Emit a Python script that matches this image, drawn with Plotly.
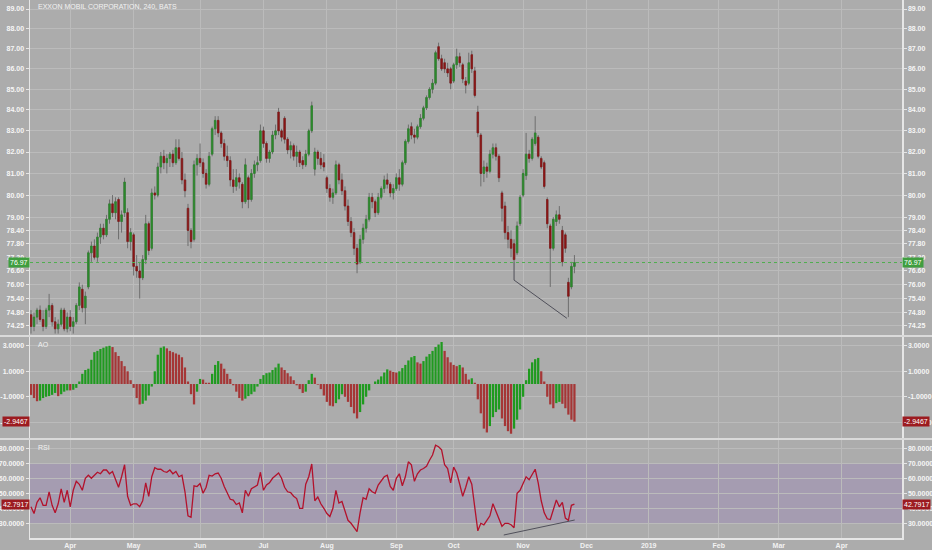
import math
import plotly.graph_objects as go

# ---------------- data (x = trading-day index, 0 = 2018-03-14) ----------------
opn = [74.7, 74.2, 74.6, 74.9, 74.5, 74.2, 74.9, 75.1, 74.4, 74.1,
       74.3, 74.9, 74.1, 74.6, 74.2, 74.4, 75.1, 75.8, 75.0, 75.9,
       77.4, 77.7, 77.2, 78.1, 78.5, 78.2, 78.9, 79.6, 79.2, 79.8,
       78.8, 79.2, 79.2, 77.9, 78.2, 76.8, 76.6, 76.3, 77.1, 78.7,
       77.6, 80.1, 80.0, 81.3, 81.8, 81.5, 81.7, 81.9, 81.5, 82.2,
       81.7, 80.7, 79.4, 78.4, 78.0, 81.4, 81.7, 81.5, 81.0, 80.5,
       81.9, 83.1, 83.5, 82.9, 82.4, 81.8, 81.6, 80.7, 80.4, 80.8,
       80.5, 79.7, 80.8, 79.8, 81.0, 81.4, 81.6, 83.0, 82.4, 81.7,
       82.0, 82.8, 83.9, 83.0, 83.6, 82.6, 82.1, 82.3, 81.8, 82.0,
       81.6, 81.4, 81.9, 83.0, 81.2, 82.0, 81.7, 81.5, 80.8, 80.3,
       79.9, 80.1, 81.4, 80.7, 80.2, 79.5, 78.8, 78.3, 77.6, 77.0,
       78.0, 78.5, 78.9, 79.9, 79.7, 79.2, 79.9, 80.3, 80.7, 80.5,
       80.1, 80.3, 80.8, 80.5, 81.5, 82.5, 83.2, 82.8, 82.7, 83.2,
       83.6, 84.1, 84.6, 85.0, 85.3, 87.1, 86.5, 86.3, 86.0, 86.0,
       85.4, 86.2, 86.6, 86.2, 85.4, 85.3, 86.7, 85.9, 83.9, 82.8,
       81.0, 81.3, 81.1, 81.9, 82.2, 81.8, 80.1, 79.5, 78.3, 78.0,
       77.8, 77.4, 78.7, 80.0, 80.9, 81.9, 81.7, 82.4, 82.7, 81.7,
       81.5, 79.8, 78.6, 77.6, 78.8, 79.1, 78.4, 78.2, 76.1, 75.9,
       76.8]
high = [74.9, 74.8, 75.0, 75.1, 74.9, 75.0, 75.6, 75.2, 74.6, 74.5,
        75.0, 75.0, 74.8, 74.9, 74.6, 75.2, 76.1, 76.0, 75.7, 77.5,
        77.9, 78.0, 78.3, 78.7, 78.7, 79.1, 79.8, 80.0, 79.9, 79.9,
        79.3, 80.8, 79.4, 78.5, 78.3, 77.3, 77.0, 77.3, 79.1, 78.8,
        80.3, 80.4, 81.5, 82.0, 82.1, 81.9, 82.0, 82.1, 82.6, 82.6,
        82.0, 81.0, 79.6, 78.5, 81.6, 81.9, 82.4, 81.7, 81.2, 82.0,
        83.2, 83.7, 83.7, 83.0, 82.6, 82.3, 81.8, 81.2, 81.2, 81.0,
        80.6, 81.7, 80.9, 81.2, 81.6, 81.8, 83.3, 83.2, 82.5, 82.1,
        83.0, 83.3, 84.1, 83.1, 83.7, 82.7, 82.5, 82.4, 82.3, 82.1,
        81.8, 82.1, 83.1, 84.4, 82.2, 82.1, 82.0, 81.9, 80.9, 80.5,
        80.3, 81.6, 81.5, 81.0, 80.4, 79.8, 79.0, 78.5, 77.8, 78.2,
        78.7, 79.1, 80.1, 80.1, 79.8, 80.1, 80.4, 80.9, 81.0, 80.6,
        80.5, 81.0, 81.2, 81.6, 82.6, 83.3, 83.4, 83.1, 83.3, 83.8,
        84.2, 84.7, 85.1, 85.5, 86.9, 87.3, 86.7, 86.5, 86.3, 86.1,
        86.3, 87.0, 86.8, 86.3, 85.6, 86.8, 86.9, 86.1, 84.2, 82.9,
        81.6, 81.5, 82.1, 82.4, 82.4, 81.9, 80.2, 79.7, 78.6, 78.4,
        78.0, 78.8, 80.0, 81.2, 82.9, 82.1, 82.7, 83.7, 82.8, 81.8,
        81.6, 79.9, 78.7, 79.0, 79.3, 79.5, 78.6, 78.3, 76.3, 77.0,
        77.3]
low = [73.9, 74.0, 74.3, 74.4, 74.0, 74.1, 74.6, 74.2, 73.9, 73.9,
       74.2, 74.0, 73.95, 74.0, 73.9, 74.3, 74.9, 74.8, 74.3, 75.8,
       77.0, 77.1, 77.0, 77.8, 78.0, 78.1, 78.7, 79.0, 78.9, 78.0,
       78.3, 79.0, 77.6, 77.5, 76.4, 76.3, 75.4, 76.2, 76.9, 77.3,
       77.5, 79.8, 79.9, 81.0, 81.2, 81.0, 81.3, 81.3, 81.4, 81.6,
       80.5, 79.9, 77.7, 77.6, 77.9, 80.9, 81.3, 80.8, 80.3, 80.4,
       81.8, 82.8, 82.7, 82.2, 81.6, 81.3, 80.4, 80.1, 80.2, 80.3,
       79.4, 79.6, 79.4, 79.7, 80.8, 81.1, 81.5, 82.2, 81.5, 81.5,
       81.9, 82.6, 82.8, 82.5, 82.4, 81.9, 81.7, 81.6, 81.3, 81.3,
       81.2, 81.3, 81.8, 82.9, 80.9, 81.4, 81.2, 81.1, 80.1, 79.7,
       79.6, 80.0, 80.5, 80.0, 79.3, 78.6, 78.1, 77.3, 76.5, 76.9,
       77.8, 78.3, 78.8, 79.4, 79.0, 79.1, 79.8, 80.1, 80.3, 79.9,
       79.8, 80.2, 80.2, 80.4, 81.4, 82.4, 82.6, 82.4, 82.6, 83.1,
       83.5, 84.0, 84.5, 84.8, 85.2, 86.4, 85.9, 85.8, 85.6, 85.0,
       85.3, 86.0, 86.1, 85.3, 84.8, 85.2, 85.8, 84.6, 82.7, 80.4,
       80.6, 80.8, 81.0, 81.7, 81.6, 80.6, 78.8, 78.0, 77.6, 77.2,
       77.0, 77.3, 78.6, 79.9, 80.7, 81.5, 81.6, 82.3, 81.7, 81.2,
       80.3, 78.5, 75.9, 77.5, 78.6, 78.7, 76.8, 77.4, 74.6, 75.8,
       76.5]
close = [74.2, 74.6, 74.9, 74.5, 74.2, 74.9, 75.1, 74.4, 74.1, 74.3,
         74.9, 74.1, 74.6, 74.2, 74.4, 75.1, 75.9, 75.0, 75.5, 77.4,
         77.7, 77.2, 78.1, 78.5, 78.2, 78.9, 79.6, 79.2, 79.7, 78.8,
         79.1, 80.6, 77.9, 78.3, 76.8, 76.6, 76.3, 77.1, 78.7, 77.5,
         80.1, 80.0, 81.3, 81.8, 81.5, 81.7, 81.9, 81.5, 82.2, 81.7,
         80.7, 80.2, 78.4, 77.9, 81.4, 81.7, 81.5, 81.0, 80.5, 81.8,
         83.1, 83.5, 82.9, 82.4, 81.8, 81.6, 80.7, 80.4, 80.8, 80.6,
         79.7, 81.4, 79.8, 81.0, 81.4, 81.5, 83.0, 82.4, 81.7, 82.0,
         82.8, 83.0, 83.0, 82.7, 82.6, 82.1, 82.3, 81.8, 82.0, 81.5,
         81.4, 81.9, 83.0, 84.2, 82.0, 81.7, 81.4, 81.3, 80.3, 79.9,
         80.1, 81.4, 80.7, 80.2, 79.5, 78.8, 78.3, 77.6, 76.9, 78.0,
         78.5, 78.9, 79.9, 79.7, 79.2, 79.9, 80.3, 80.7, 80.5, 80.1,
         80.3, 80.8, 80.5, 81.5, 82.5, 83.1, 82.8, 82.7, 83.2, 83.6,
         84.1, 84.6, 85.0, 85.3, 86.8, 86.5, 86.0, 86.0, 85.8, 85.3,
         86.2, 86.6, 86.3, 85.5, 85.2, 86.3, 86.0, 84.7, 82.9, 81.0,
         81.3, 81.1, 81.9, 82.2, 81.8, 80.8, 79.4, 78.3, 78.0, 77.6,
         77.1, 78.6, 79.9, 81.0, 81.9, 81.7, 82.6, 82.9, 81.8, 81.3,
         80.4, 78.7, 77.6, 78.9, 79.1, 78.9, 77.0, 77.6, 75.5, 76.8,
         76.97]
ao = [-0.85, -1.1, -1.35, -1.3, -1.1, -1.0, -0.95, -0.85, -0.7, -0.95,
      -0.8, -0.6, -0.5, -0.5, -0.45, -0.3, 0.2, 0.8, 1.1, 1.2,
      1.9, 2.5, 2.6, 2.75, 2.85, 2.95, 3.0, 2.9, 2.5, 2.2,
      1.8, 1.4, 1.0, 0.3, -0.3, -1.1, -1.6, -1.55, -1.3, -0.9,
      -0.2, 1.0, 2.3, 2.85, 2.95, 2.8, 2.6, 2.5, 2.4, 2.3,
      2.1, 1.3, 0.2, -0.8, -1.6, -0.6, 0.4, 0.35, 0.1, 0.1,
      0.8, 1.5, 1.8, 1.6, 1.2, 0.8, 0.4, -0.1, -0.6, -1.1,
      -1.3, -1.15, -0.95, -0.8, -0.6, -0.2, 0.4, 0.7, 0.85, 0.9,
      1.1, 1.3, 1.6, 1.3, 1.1, 0.85, 0.6, 0.3, -0.1, -0.4,
      -0.7, -0.6, 0.3, 0.8, 0.5, -0.05, -0.4, -0.9, -1.4, -1.7,
      -1.75, -1.5, -1.2, -0.8, -1.0, -1.4, -1.8, -2.3, -2.7, -2.2,
      -1.6, -1.0, -0.5, 0.0, 0.2, 0.35, 0.6, 0.9, 1.15, 1.05,
      0.95, 0.9, 1.0, 1.25, 1.5, 1.85, 2.1, 2.2, 1.7, 1.6,
      1.8, 2.15, 2.35, 2.6, 2.9, 3.1, 3.3, 2.6, 2.1, 1.7,
      1.5, 1.4, 1.5, 1.3, 0.8, 0.35, 0.45, 0.1, -1.2, -2.3,
      -3.5, -3.8, -3.3, -2.6, -2.2, -2.0, -2.7, -3.3, -3.7, -3.9,
      -3.5, -2.8, -2.0, -1.0, 0.3, 1.2, 1.7, 1.95, 2.05, 1.0,
      0.2, -1.0, -1.6, -1.9, -1.5, -1.4, -1.55, -1.9, -2.4, -2.8,
      -2.9467]
rsi = [41, 36.5, 44, 47, 42, 42, 51, 42, 37, 43,
       53, 44, 52, 41, 52, 58, 56, 52, 60, 62,
       60, 62, 64, 63, 65.5, 65.5, 63, 64.5, 59, 54,
       61, 69, 48, 42, 43, 43, 41, 45, 57, 48,
       61, 67, 66, 66, 64.5, 64, 65.5, 63, 64.5, 61,
       62, 51, 35, 34, 55, 54.5, 56.5, 50, 54, 62,
       61.5, 63, 63.5, 60, 54.5, 50, 46, 45.5, 42.5, 43.5,
       37, 52, 48, 53, 54.5, 55.5, 64, 52, 55.5, 57,
       60, 62, 63.5, 60, 54, 51, 50.5, 48, 46.5, 40,
       40, 56, 61, 69.5, 45, 47.5, 43, 40, 36.5, 34.5,
       40, 52, 43.5, 44.5, 38, 32, 30, 27, 24.5, 37,
       47, 46, 53, 51, 50, 55.5, 58.5, 61, 62, 54.5,
       52, 60, 63, 55, 61, 71, 69, 58, 63, 65.5,
       66.5, 68, 72, 75.5, 82, 81, 79, 69, 66.5, 57,
       67.5, 63.5, 56, 48, 54, 61, 56, 40, 25, 30,
       29, 32, 35, 43, 38, 33, 28, 30, 30, 29,
       27, 50, 52, 56.5, 61, 59, 63, 66, 57, 45,
       37, 33, 32.5, 39, 45.5, 41, 44, 33.5, 32, 42,
       42.7917]
day = list(range(len(close)))
assert len(opn) == len(high) == len(low) == len(close) == len(ao) == len(rsi)

month_pos = [13, 34, 56, 77, 98, 121, 140, 163, 184, 204.6, 227.8, 247.7, 268.5]
month_lbl = ['Apr', 'May', 'Jun', 'Jul', 'Aug', 'Sep', 'Oct', 'Nov', 'Dec',
             '<b>2019</b>', 'Feb', 'Mar', 'Apr']
price_ticks = [89, 88, 87, 86, 85, 84, 83, 82, 81, 80, 79, 78.4, 77.8, 77.2,
               76.6, 76, 75.4, 74.8, 74.25]
ao_ticks = [3, 1, -1, -3]
rsi_ticks = [80, 70, 60, 50, 40, 30]

# hand-drawn divergence lines
price_trend_x = [160, 160, 177.5]
price_trend_y = [77.0, 76.2, 74.55]
rsi_trend_x = [156.6, 180.1]
rsi_trend_y = [22.2, 32.2]

x_range = [-0.33, 288.5]
price_range = [73.84, 89.46]
ao_range = [-4.235, 3.69]
rsi_range = [20.2, 85.5]

# ---------------- style ----------------
BG = '#acacac'
GRID = '#bbbbbb'
AXL = '#e6e6e6'
FONT = 'Liberation Sans, Arial, sans-serif'
UP, DN, WICK = '#2b8a2b', '#8a1616', '#6e6e6e'
AO_UP, AO_DN = '#1f9a1f', '#a53636'
RSI_C = '#b3122c'
tickfont = dict(family=FONT, size=7, color='#f6f6f6', weight='bold')

fig = go.Figure()

# wicks (gray) and bodies (colored)
fig.add_trace(go.Candlestick(
    x=day, open=opn, high=high, low=low, close=close,
    increasing=dict(line=dict(color=WICK, width=1), fillcolor=WICK),
    decreasing=dict(line=dict(color=WICK, width=1), fillcolor=WICK),
    xaxis='x3', yaxis='y', hoverinfo='skip', showlegend=False))
body_hi = [max(o, c) for o, c in zip(opn, close)]
body_lo = [min(o, c) for o, c in zip(opn, close)]
fig.add_trace(go.Candlestick(
    x=day, open=opn, high=body_hi, low=body_lo, close=close,
    increasing=dict(line=dict(color=UP, width=0.6), fillcolor=UP),
    decreasing=dict(line=dict(color=DN, width=0.6), fillcolor=DN),
    xaxis='x3', yaxis='y', hoverinfo='skip', showlegend=False))
# last price line
fig.add_trace(go.Scatter(x=x_range, y=[close[-1]] * 2, mode='lines',
                         line=dict(color='#4fae4f', width=1, dash='dot'),
                         xaxis='x3', yaxis='y', showlegend=False, hoverinfo='skip'))
fig.add_trace(go.Scatter(x=price_trend_x, y=price_trend_y, mode='lines',
                         line=dict(color='#50505a', width=1),
                         xaxis='x3', yaxis='y', showlegend=False, hoverinfo='skip'))
fig.add_trace(go.Scatter(x=[day[0]], y=[close[0]], mode='markers', marker=dict(opacity=0),
                         xaxis='x3', yaxis='y2', showlegend=False, hoverinfo='skip'))

# AO histogram
ao_colors = [AO_UP if i > 0 and v > ao[i - 1] else AO_DN for i, v in enumerate(ao)]
fig.add_trace(go.Bar(x=day, y=ao, marker=dict(color=ao_colors, line=dict(width=0)),
                     xaxis='x2', yaxis='y3', showlegend=False, hoverinfo='skip'))
fig.add_trace(go.Scatter(x=[day[0]], y=[ao[0]], mode='markers', marker=dict(opacity=0),
                         xaxis='x2', yaxis='y4', showlegend=False, hoverinfo='skip'))

# RSI
fig.add_trace(go.Scatter(x=day, y=rsi, mode='lines', line=dict(color=RSI_C, width=1.3),
                         xaxis='x', yaxis='y5', showlegend=False, hoverinfo='skip'))
fig.add_trace(go.Scatter(x=rsi_trend_x, y=rsi_trend_y, mode='lines',
                         line=dict(color='#50505a', width=1),
                         xaxis='x', yaxis='y5', showlegend=False, hoverinfo='skip'))
fig.add_trace(go.Scatter(x=[day[0]], y=[rsi[0]], mode='markers', marker=dict(opacity=0),
                         xaxis='x', yaxis='y6', showlegend=False, hoverinfo='skip'))

H = 538.0
def dom(top_px, bot_px):
    return [(H - bot_px) / H, (H - top_px) / H]

d_price, d_ao, d_rsi = dom(0, 335), dom(337, 438), dom(440, 538)

def xax(anchor, labels):
    return dict(anchor=anchor, domain=[0, 1], range=x_range, tickmode='array',
                tickvals=month_pos, ticktext=month_lbl, showticklabels=labels,
                showgrid=True, gridcolor=GRID, gridwidth=1, zeroline=False,
                showline=labels, linecolor=AXL, linewidth=2, ticks='',
                tickfont=dict(family=FONT, size=7, color='#f2f2f2', weight='bold'),
                rangeslider=dict(visible=False), automargin=False, fixedrange=True)

def yax(domain, anchor, rng, vals, texts, side, typ='linear', overlay=None):
    r = [math.log10(rng[0]), math.log10(rng[1])] if typ == 'log' else rng
    d = dict(domain=domain, anchor=anchor, range=r, type=typ, tickmode='array',
             tickvals=vals, ticktext=texts, side=side,
             showgrid=overlay is None, gridcolor=GRID, gridwidth=1, zeroline=False,
             showline=True, linecolor=AXL, linewidth=1.5, ticks='outside', ticklen=3,
             tickcolor=AXL, tickfont=tickfont, automargin=False, fixedrange=True)
    if overlay:
        d['overlaying'] = overlay
    return d

p_txt = ['%.2f' % v for v in price_ticks]
a_txt = ['%.4f' % v for v in ao_ticks]
r_txt = ['%.4f' % v for v in rsi_ticks]

layout = dict(
    width=932, height=550, margin=dict(l=30, r=30, t=0, b=12),
    paper_bgcolor=BG, plot_bgcolor=BG, bargap=0.25, showlegend=False,
    xaxis=xax('y5', True), xaxis2=dict(xax('y3', False), matches='x'),
    xaxis3=dict(xax('y', False), matches='x'),
    yaxis=yax(d_price, 'x3', price_range, price_ticks, p_txt, 'left', 'log'),
    yaxis2=yax(d_price, 'x3', price_range, price_ticks, p_txt, 'right', 'log', 'y'),
    yaxis3=yax(d_ao, 'x2', ao_range, ao_ticks, a_txt, 'left'),
    yaxis4=yax(d_ao, 'x2', ao_range, ao_ticks, a_txt, 'right', overlay='y3'),
    yaxis5=yax(d_rsi, 'x', rsi_range, rsi_ticks, r_txt, 'left'),
    yaxis6=yax(d_rsi, 'x', rsi_range, rsi_ticks, r_txt, 'right', overlay='y5'),
)
fig.update_layout(**layout)

# RSI band and panel separators
sep_lo, sep_hi = -30 / 872, 1 + 30 / 872
fig.add_shape(type='rect', xref='paper', x0=0, x1=1, yref='y5', y0=30, y1=70,
              fillcolor='rgba(140,100,195,0.22)', line=dict(width=0), layer='below')
for py in (336, 439):
    yy = (H - py) / H
    fig.add_shape(type='line', xref='paper', yref='paper', x0=sep_lo, x1=sep_hi,
                  y0=yy, y1=yy, line=dict(color='#dadada', width=2))

def tag(text, yref, y, color, side):
    return dict(text=text, xref='paper', x=0 if side == 'left' else 1,
                xanchor='right' if side == 'left' else 'left', yref=yref, y=y,
                yanchor='middle', showarrow=False, bgcolor=color, borderpad=1,
                font=dict(family=FONT, size=7, color='white'))

ann = [
    dict(text='EXXON MOBIL CORPORATION, 240, BATS', xref='paper', yref='paper',
         x=6 / 872, y=(H - 7) / H, xanchor='left', yanchor='middle', showarrow=False,
         font=dict(family=FONT, size=7, color='#f2f2f2')),
    dict(text='AO', xref='paper', yref='paper', x=6 / 872, y=(H - 344) / H,
         xanchor='left', yanchor='middle', showarrow=False,
         font=dict(family=FONT, size=7, color='#f2f2f2')),
    dict(text='RSI', xref='paper', yref='paper', x=6 / 872, y=(H - 447) / H,
         xanchor='left', yanchor='middle', showarrow=False,
         font=dict(family=FONT, size=7, color='#f2f2f2')),
]
for side in ('left', 'right'):
    ann.append(tag('%.2f' % close[-1], 'y', math.log10(close[-1]), '#3f9e3f', side))
    ann.append(tag('%.4f' % ao[-1], 'y3', ao[-1], '#9c1b20', side))
    ann.append(tag('%.4f' % rsi[-1], 'y5', rsi[-1], '#9c1b20', side))
fig.update_layout(annotations=ann)

fig.write_html('out.html',
               config={'displayModeBar': False, 'staticPlot': True},
               post_script="document.body.style.margin='0';"
                           "document.body.style.padding='0';"
                           "document.body.style.background='#acacac';")
